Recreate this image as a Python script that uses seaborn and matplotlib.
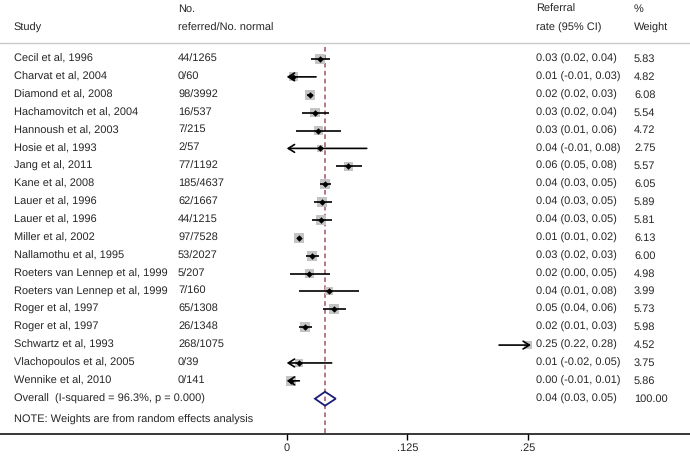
import numpy as np
import pandas as pd
import seaborn as sns
import matplotlib.pyplot as plt
import matplotlib.transforms as mtransforms
from matplotlib.patches import Polygon

studies = ["Cecil et al, 1996", "Charvat et al, 2004", "Diamond et al, 2008",
           "Hachamovitch et al, 2004", "Hannoush et al, 2003", "Hosie et al, 1993",
           "Jang et al, 2011", "Kane et al, 2008", "Lauer et al, 1996", "Lauer et al, 1996",
           "Miller et al, 2002", "Nallamothu et al, 1995", "Roeters van Lennep et al, 1999",
           "Roeters van Lennep et al, 1999", "Roger et al, 1997", "Roger et al, 1997",
           "Schwartz et al, 1993", "Vlachopoulos et al, 2005", "Wennike et al, 2010"]
counts = ["44/1265", "0/60", "98/3992", "16/537", "7/215", "2/57", "77/1192", "185/4637",
          "62/1667", "44/1215", "97/7528", "53/2027", "5/207", "7/160", "65/1308",
          "26/1348", "268/1075", "0/39", "0/141"]
rate = [0.0345, 0.0069, 0.0241, 0.0293, 0.0328, 0.0345, 0.0638, 0.0397, 0.0369, 0.0355,
        0.0131, 0.0259, 0.0234, 0.0438, 0.0493, 0.0190, 0.25, 0.0127, 0.0041]
lo = [0.0249, -0.01, 0.0207, 0.0155, 0.0100, -0.01, 0.0511, 0.0345, 0.0283, 0.0259,
      0.0110, 0.0197, 0.0034, 0.0124, 0.0379, 0.0131, 0.22, -0.02, -0.01]
hi = [0.0449, 0.0304, 0.0276, 0.0441, 0.0559, 0.0829, 0.0777, 0.0456, 0.0466, 0.0473,
      0.0152, 0.0332, 0.0452, 0.0752, 0.0614, 0.0266, 0.28, 0.0466, 0.0131]
ci_text = ["0.03 (0.02, 0.04)", "0.01 (-0.01, 0.03)", "0.02 (0.02, 0.03)", "0.03 (0.02, 0.04)",
           "0.03 (0.01, 0.06)", "0.04 (-0.01, 0.08)", "0.06 (0.05, 0.08)", "0.04 (0.03, 0.05)",
           "0.04 (0.03, 0.05)", "0.04 (0.03, 0.05)", "0.01 (0.01, 0.02)", "0.03 (0.02, 0.03)",
           "0.02 (0.00, 0.05)", "0.04 (0.01, 0.08)", "0.05 (0.04, 0.06)", "0.02 (0.01, 0.03)",
           "0.25 (0.22, 0.28)", "0.01 (-0.02, 0.05)", "0.00 (-0.01, 0.01)"]
weight = [5.83, 4.82, 6.08, 5.54, 4.72, 2.75, 5.57, 6.05, 5.89, 5.81, 6.13, 6.00, 4.98,
          3.99, 5.73, 5.98, 4.52, 3.75, 5.86]

overall_label = "Overall  (I-squared = 96.3%, p = 0.000)"
overall_rate, overall_lo, overall_hi = 0.0397, 0.0293, 0.0508
overall_text = "0.04 (0.03, 0.05)"
overall_weight = "100.00"
note = "NOTE: Weights are from random effects analysis"
xticks = [0, 0.125, 0.25]
xmin, xmax = 0, 0.25   # CIs are clipped to this range

df = pd.DataFrame(dict(study=studies, rate=rate, lo=lo, hi=hi, weight=weight))
df["row"] = np.arange(len(df))

sns.set_style("white")
plt.rcParams['font.family'] = ['Liberation Sans', 'DejaVu Sans']
plt.rcParams['text.hinting'] = 'no_hinting'
plt.rcParams['text.hinting_factor'] = 1
fs = 7.6

fig = plt.figure(figsize=(6.9, 4.57), dpi=100)
ax = fig.add_axes([0, 23.5 / 457, 1, 433.5 / 457])
# pixel mapping: x -> 286.7 + v*965.3, rows 17.88 px apart starting at y=59
ax.set_xlim(-286.7 / 965.3, (690 - 286.7) / 965.3)
ax.set_ylim((433.5 - 59) / 17.88, -59 / 17.88)

# grey weight boxes
sns.scatterplot(data=df, x="rate", y="row", size="weight", sizes=(0, 52),
                size_norm=(0, 6.13), marker="s", color="#c4c4c4", linewidth=0,
                legend=False, ax=ax, zorder=1)

arrow = dict(arrowstyle="->,head_length=0.45,head_width=0.28", lw=1.2,
             color="black", shrinkA=0, shrinkB=0, mutation_scale=10)

# confidence intervals, with arrows when clipped
for i, r in df.iterrows():
    a, b = max(r.lo, xmin), min(r.hi, xmax + 0.003)
    if r.lo < xmin:
        ax.annotate("", xy=(a, r.row), xytext=(b, r.row), arrowprops=arrow, zorder=2)
    elif r.hi > xmax:
        ax.annotate("", xy=(b, r.row), xytext=(a, r.row), arrowprops=arrow, zorder=2)
    else:
        ax.plot([a, b], [r.row, r.row], color="black", lw=1.2, zorder=2,
                solid_capstyle="butt")

sns.scatterplot(data=df[df.rate < xmax], x="rate", y="row", marker="D", s=11,
                color="black", linewidth=0, legend=False, ax=ax, zorder=3)

# overall diamond
yo = len(df)
h = 0.39
ax.add_patch(Polygon([(overall_lo, yo), (overall_rate, yo - h), (overall_hi, yo),
                      (overall_rate, yo + h)], closed=True, fill=False,
                     edgecolor="#1c1c78", lw=1.3, zorder=3))

# reference line at overall estimate
ax.plot([overall_rate, overall_rate], [(46.7 - 59) / 17.88, (433.5 - 59) / 17.88],
        color="#a5525e", lw=1.1, ls=(0, (3, 2.2)), zorder=0)

# header separator
ax.axhline((43.5 - 59) / 17.88, color="#c8c8c8", lw=1.0)

# text columns
tr = mtransforms.blended_transform_factory(ax.transAxes, ax.transData)
cols = [14 / 690, 178 / 690, 535.7 / 690, 634 / 690]
yh1, yh2 = (9 - 59) / 17.88, (28 - 59) / 17.88
for x, t1, t2 in zip(cols, ["", "No.", "Referral", "%"],
                     ["Study", "referred/No. normal", "rate (95% CI)", "Weight"]):
    ax.text(x, yh1, t1, transform=tr, fontsize=fs, va="center", ha="left")
    ax.text(x, yh2, t2, transform=tr, fontsize=fs, va="center", ha="left")

for i in range(len(df)):
    ax.text(cols[0], i, studies[i], transform=tr, fontsize=fs, va="center")
    ax.text(cols[1], i, counts[i], transform=tr, fontsize=fs, va="center")
    ax.text(cols[2], i, ci_text[i], transform=tr, fontsize=fs, va="center")
    ax.text(cols[3], i, f"{weight[i]:.2f}", transform=tr, fontsize=fs, va="center")

ax.text(cols[0], yo, overall_label, transform=tr, fontsize=fs, va="center")
ax.text(cols[2], yo, overall_text, transform=tr, fontsize=fs, va="center")
ax.text(cols[3], yo, overall_weight, transform=tr, fontsize=fs, va="center")
ax.text(cols[0], (420 - 59) / 17.88, note, transform=tr, fontsize=fs, va="center")

# x axis
sns.despine(ax=ax, left=True, top=True, right=True)
ax.spines["bottom"].set_linewidth(1.1)
ax.spines["bottom"].set_color("black")
ax.set_xticks(xticks)
ax.set_xticklabels(["0" if v == 0 else f"{v:g}".lstrip("0") for v in xticks])
ax.tick_params(axis="x", direction="out", length=4, width=1.0, pad=2.5,
               labelsize=fs, bottom=True, color="black")
ax.set_yticks([])
ax.set_xlabel("")
ax.set_ylabel("")

fig.savefig("out.png", dpi=100)
